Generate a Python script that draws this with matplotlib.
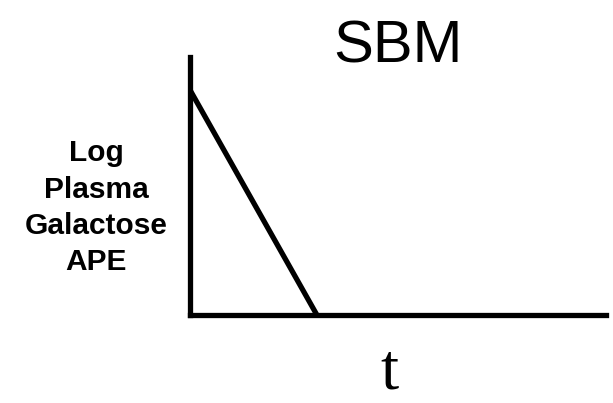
import matplotlib
matplotlib.use("Agg")
import matplotlib.pyplot as plt

# schematic decay of tracer enrichment
t = [0.0, 0.305]
log_ape = [0.872, 0.0]

fig = plt.figure(figsize=(6.13, 4.03), dpi=100)
ax = fig.add_axes([0.310, 0.2184, 0.6786, 0.6402])

ax.plot(t, log_ape, color='black', linewidth=3.8, solid_capstyle='butt')

ax.set_xlim(0, 1)
ax.set_ylim(0, 1)
ax.set_xticks([])
ax.set_yticks([])
ax.spines['top'].set_visible(False)
ax.spines['right'].set_visible(False)
ax.spines['left'].set_linewidth(3.8)
ax.spines['bottom'].set_linewidth(3.8)

fig.text(0.650, 0.884, "SBM", ha='center', va='center',
         fontsize=43, family='Liberation Sans')
fig.text(0.157, 0.484, "Log\nPlasma\nGalactose\nAPE", ha='center', va='center',
         fontsize=21.5, fontweight='bold', family='Liberation Sans',
         linespacing=1.38, multialignment='center')
fig.text(0.636, 0.074, "t", ha='center', va='center',
         fontsize=47, family='Liberation Serif')

fig.savefig("out.png", dpi=100)
